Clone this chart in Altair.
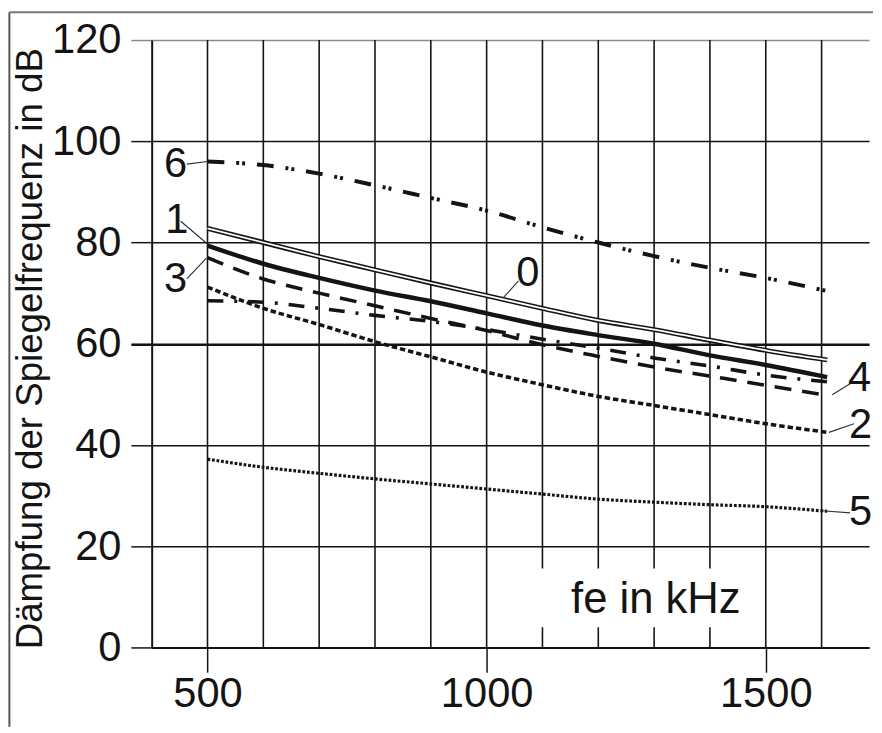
import altair as alt
import pandas as pd

# ---------------- data ----------------
freq = [500, 600, 700, 800, 900, 1000, 1100, 1200, 1300, 1400, 1500, 1610]
c0 = [82.8, 80.0, 77.2, 74.6, 72.0, 69.5, 67.0, 64.6, 62.8, 60.7, 58.7, 56.8]
c1 = [79.4, 75.8, 73.0, 70.5, 68.4, 66.0, 63.6, 61.7, 60.0, 57.7, 55.8, 53.4]
c2 = [71.2, 67.0, 63.8, 60.4, 57.4, 54.4, 51.9, 49.6, 47.8, 46.0, 44.2, 42.5]
c3 = [77.0, 72.8, 70.0, 67.5, 65.0, 62.6, 59.8, 57.5, 55.4, 53.6, 51.8, 49.8]
c4 = [68.5, 68.2, 67.0, 65.6, 64.4, 62.8, 60.9, 59.1, 57.2, 55.6, 53.8, 52.5]
c5 = [37.2, 35.6, 34.4, 33.3, 32.3, 31.3, 30.3, 29.3, 28.7, 28.2, 27.8, 26.9]
c6 = [96.0, 95.3, 93.6, 91.3, 88.8, 86.3, 83.0, 80.0, 77.3, 75.0, 73.0, 70.4]

x_tick_values = [500, 1000, 1500]
y_tick_values = [0, 20, 40, 60, 80, 100, 120]
grid_x = [500, 600, 700, 800, 900, 1000, 1100, 1200, 1300, 1400, 1500, 1600]

label_text = ["0", "1", "2", "3", "4", "5", "6"]
label_x = [1074, 445, 1670, 443, 1668, 1670, 443]
label_y = [74.0, 84.4, 44.0, 72.8, 53.2, 26.8, 95.5]

lead_x1 = [1030, 452, 1613, 463, 1619, 1601, 463]
lead_y1 = [69.1, 84.2, 42.5, 72.8, 49.9, 27.0, 95.5]
lead_x2 = [1057, 500, 1658, 498, 1654, 1651, 500]
lead_y2 = [72.4, 79.7, 44.2, 76.9, 52.3, 26.6, 96.0]

xlabel_text = "fe in kHz"
xlabel_pos = [1303, 6.85]
xlabel_box = [1095, 1475, 4.0, 15.6]

y_title = "Dämpfung der Spiegelfrequenz in dB"

# ---------------- chart ----------------
W, H = 724, 613
FONT = "Liberation Sans"
INK = "#141414"

series = {"0": c0, "1": c1, "2": c2, "3": c3, "4": c4, "5": c5, "6": c6}
df = pd.DataFrame(
    [{"curve": k, "f": f, "a": v} for k, vals in series.items() for f, v in zip(freq, vals)]
)

x_scale = alt.Scale(domain=[400, 1685], nice=False, zero=False)
y_scale = alt.Scale(domain=[0, 120], nice=False, zero=False)

x_axis = alt.Axis(
    values=x_tick_values, title=None, grid=False, format="d",
    tickSize=25, tickWidth=1.5, tickColor=INK,
    domainColor=INK, domainWidth=2,
    labelFont=FONT, labelFontSize=42, labelColor=INK, labelPadding=2,
    labelFlush=False, labelOverlap=False,
)
y_axis = alt.Axis(
    values=y_tick_values, title=y_title, grid=True, format="d",
    gridColor={"condition": {"test": "datum.value === 120", "value": "#8a8a8a"}, "value": INK},
    gridWidth={"condition": {"test": "datum.value === 60", "value": 2.6}, "value": 1.5},
    tickColor={"condition": {"test": "datum.value === 120", "value": "#8a8a8a"}, "value": INK},
    tickWidth={"condition": {"test": "datum.value === 60", "value": 2.6}, "value": 1.5},
    tickSize=21,
    domainColor=INK, domainWidth=2,
    labelFont=FONT, labelFontSize=42, labelColor=INK, labelPadding=10,
    labelFlush=False, labelOverlap=False,
    titleFont=FONT, titleFontSize=37, titleFontWeight="normal", titleColor=INK,
    titlePadding=2, titleY=311,
)


def X(field):
    return alt.X(field, type="quantitative", scale=x_scale, axis=x_axis)


def Y(field):
    return alt.Y(field, type="quantitative", scale=y_scale, axis=y_axis)


grid_df = pd.DataFrame({"gx": grid_x, "y0": [0] * len(grid_x), "y1": [120] * len(grid_x)})
vgrid = alt.Chart(grid_df).mark_rule(color=INK, strokeWidth=1.6).encode(
    x=X("gx"), y=Y("y0"), y2="y1:Q",
)

box_df = pd.DataFrame({"x0": [xlabel_box[0]], "x1": [xlabel_box[1]],
                       "b0": [xlabel_box[2]], "b1": [xlabel_box[3]]})
box = alt.Chart(box_df).mark_rect(color="white").encode(
    x=X("x0"), x2="x1:Q", y=Y("b0"), y2="b1:Q",
)

xl_df = pd.DataFrame({"t": [xlabel_text], "x": [xlabel_pos[0]], "y": [xlabel_pos[1]]})
xlab = alt.Chart(xl_df).mark_text(
    font=FONT, fontSize=44, color=INK, align="center", baseline="alphabetic"
).encode(x=X("x"), y=Y("y"), text="t:N")


def curve(name, **style):
    color = style.pop("color", INK)
    return alt.Chart(df).transform_filter(alt.datum.curve == name).mark_line(
        interpolate="monotone", color=color, **style
    ).encode(x=X("f"), y=Y("a"))


l0a = curve("0", strokeWidth=5)
l0b = curve("0", strokeWidth=1.8, color="white")
l1 = curve("1", strokeWidth=4.5)
l2 = curve("2", strokeWidth=3.6, strokeDash=[5.5, 3])
l3 = curve("3", strokeWidth=3.6, strokeDash=[17, 11])
l4 = curve("4", strokeWidth=3.6, strokeDash=[16, 11, 3, 11])
l5 = curve("5", strokeWidth=3.2, strokeDash=[2.8, 1.8])
l6 = curve("6", strokeWidth=4, strokeDash=[17, 12, 3, 3, 3, 12])

lead_df = pd.DataFrame({"x1": lead_x1, "y1": lead_y1, "x2": lead_x2, "y2": lead_y2})
leaders = alt.Chart(lead_df).mark_rule(color="#333333", strokeWidth=1.2).encode(
    x=X("x1"), x2="x2:Q", y=Y("y1"), y2="y2:Q",
)

lab_df = pd.DataFrame({"t": label_text, "x": label_x, "y": label_y})
labels = alt.Chart(lab_df).mark_text(
    font=FONT, fontSize=42, color=INK, align="center", baseline="middle"
).encode(x=X("x"), y=Y("y"), text="t:N")

one = pd.DataFrame({"k": [0]})
frame_left = alt.Chart(one).mark_rule(color="#555555", strokeWidth=2).encode(
    x=alt.value(-143.6), y=alt.value(-28), y2=alt.value(693)
)
frame_top = alt.Chart(one).mark_rule(color="#777777", strokeWidth=2).encode(
    x=alt.value(-143.6), x2=alt.value(W + 4), y=alt.value(-28)
)

chart = alt.layer(
    vgrid, box, xlab, l5, l2, l4, l3, l1, l0a, l0b, l6, leaders, labels,
    frame_left, frame_top,
).properties(
    width=W, height=H,
    padding={"left": 0, "top": 0, "right": 0, "bottom": 0},
    background="white",
).configure_view(stroke=None)

chart.save("out.html", embed_options={"renderer": "svg", "actions": False})
